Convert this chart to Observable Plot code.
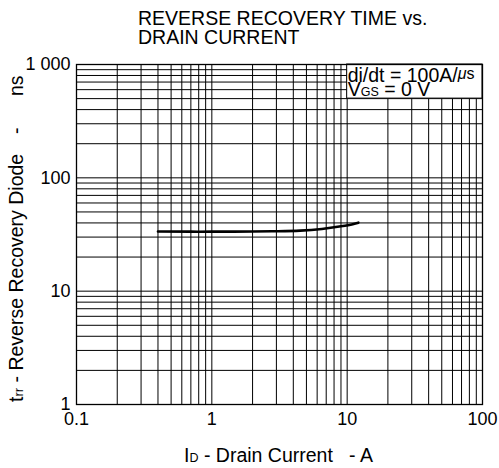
<!DOCTYPE html>
<html><head><meta charset="utf-8">
<script src="https://cdn.jsdelivr.net/npm/d3@7"></script>
<script src="https://cdn.jsdelivr.net/npm/@observablehq/plot@0.6"></script>
<style>
body{margin:0;background:#fff;}
#chart{width:499px;height:468px;}
svg text{font-family:"Liberation Sans",Arial,Helvetica,sans-serif;}
</style></head><body><div id="chart"></div>
<script>
const drainCurrent = [0.4, 0.7, 1, 2, 3, 4.5, 6.5, 9, 11, 12.1];
const recoveryTime = [33.6, 33.5, 33.5, 33.6, 33.8, 34.2, 35.4, 37.4, 39.0, 40.2];
const xTicks = [0.1, 1, 10, 100];
const xTickLabels = ["0.1", "1", "10", "100"];
const yTicks = [1, 10, 100, 1000];
const yTickLabels = ["1", "10", "100", "1 000"];
const xGrid = [0.1,0.2,0.3,0.4,0.5,0.6,0.7,0.8,0.9,1,2,3,4,5,6,7,8,9,10,20,30,40,50,60,70,80,90,100];
const yGrid = [1,2,3,4,5,6,7,8,9,10,20,30,40,50,60,70,80,90,100,200,300,400,500,600,700,800,900,1000];
const titleLines = ["REVERSE RECOVERY TIME vs.", "DRAIN CURRENT"];
const legendBox = {x1: 10, x2: 100, y1: 500, y2: 1000};

const curve = drainCurrent.map((d, i) => ({x: d, y: recoveryTime[i]}));

const plot = Plot.plot({
  width: 499,
  height: 468,
  marginLeft: 76,
  marginRight: 17,
  marginTop: 64,
  marginBottom: 64,
  style: {fontFamily: '"Liberation Sans", Arial, sans-serif', background: "#fff", color: "#000"},
  x: {type: "log", domain: [0.1, 100]},
  y: {type: "log", domain: [1, 1000]},
  marks: [
    Plot.ruleX(xGrid, {stroke: "#000", strokeWidth: 1}),
    Plot.ruleY(yGrid, {stroke: "#000", strokeWidth: 1}),
    Plot.rect([legendBox], {x1: "x1", x2: "x2", y1: "y1", y2: "y2", fill: "#fff", stroke: "#000", strokeWidth: 1}),
    Plot.frame({stroke: "#000", strokeWidth: 1.3}),
    Plot.line(curve, {x: "x", y: "y", stroke: "#000", strokeWidth: 2.6, curve: "natural"}),
    Plot.axisX(xTicks, {tickSize: 0, tickPadding: 8, fontSize: 18, tickFormat: (d) => xTickLabels[xTicks.indexOf(d)], label: null}),
    Plot.axisY(yTicks, {tickSize: 0, tickPadding: 6, fontSize: 18, tickFormat: (d) => yTickLabels[yTicks.indexOf(d)], label: null})
  ]
});

document.getElementById("chart").appendChild(plot);

const svg = d3.select(plot);
svg.selectAll('g[aria-label="x-axis tick label"], g[aria-label="y-axis tick label"]').attr("font-size", 18);
const sx = plot.scale("x");

// title
const t = svg.append("text").attr("font-size", 19.5).attr("fill", "#000").attr("text-anchor", "start");
titleLines.forEach((line, i) => {
  t.append("tspan").attr("x", 138).attr("y", 25 + i * 19).text(line);
});

// legend text
const lx = sx.apply(legendBox.x1) + 1;
const l1 = svg.append("text").attr("x", lx).attr("y", 81.5).attr("font-size", 19.5).attr("fill", "#000").attr("text-anchor", "start");
l1.append("tspan").text("di/dt = 100A/");
l1.append("tspan").attr("font-size", 16).attr("font-style", "italic").attr("dy", -3).text("μ");
l1.append("tspan").attr("font-size", 16).text("s");
const l2 = svg.append("text").attr("x", lx).attr("y", 96).attr("font-size", 19.5).attr("fill", "#000").attr("text-anchor", "start");
l2.append("tspan").text("V");
l2.append("tspan").attr("font-size", 12.5).text("GS");
l2.append("tspan").text(" = 0 V");

// x label
const xl = svg.append("text").attr("x", 278.5).attr("y", 462).attr("text-anchor", "middle").attr("font-size", 19.5).attr("fill", "#000");
xl.append("tspan").text("I");
xl.append("tspan").attr("font-size", 12.5).text("D");
xl.append("tspan").text(" - Drain Current \u00a0\u00a0- A");

// y label (rotated; x positions along the text are negative screen y)
const yl = svg.append("text").attr("transform", "translate(23,0) rotate(-90)").attr("text-anchor", "start").attr("font-size", 19.5).attr("fill", "#000");
yl.append("tspan").attr("x", -402).text("t");
yl.append("tspan").attr("font-size", 13).text("rr");
yl.append("tspan").text(" - Reverse Recovery Diode");
yl.append("tspan").attr("x", -134).text("-");
yl.append("tspan").attr("x", -96).text("ns");
</script></body></html>
